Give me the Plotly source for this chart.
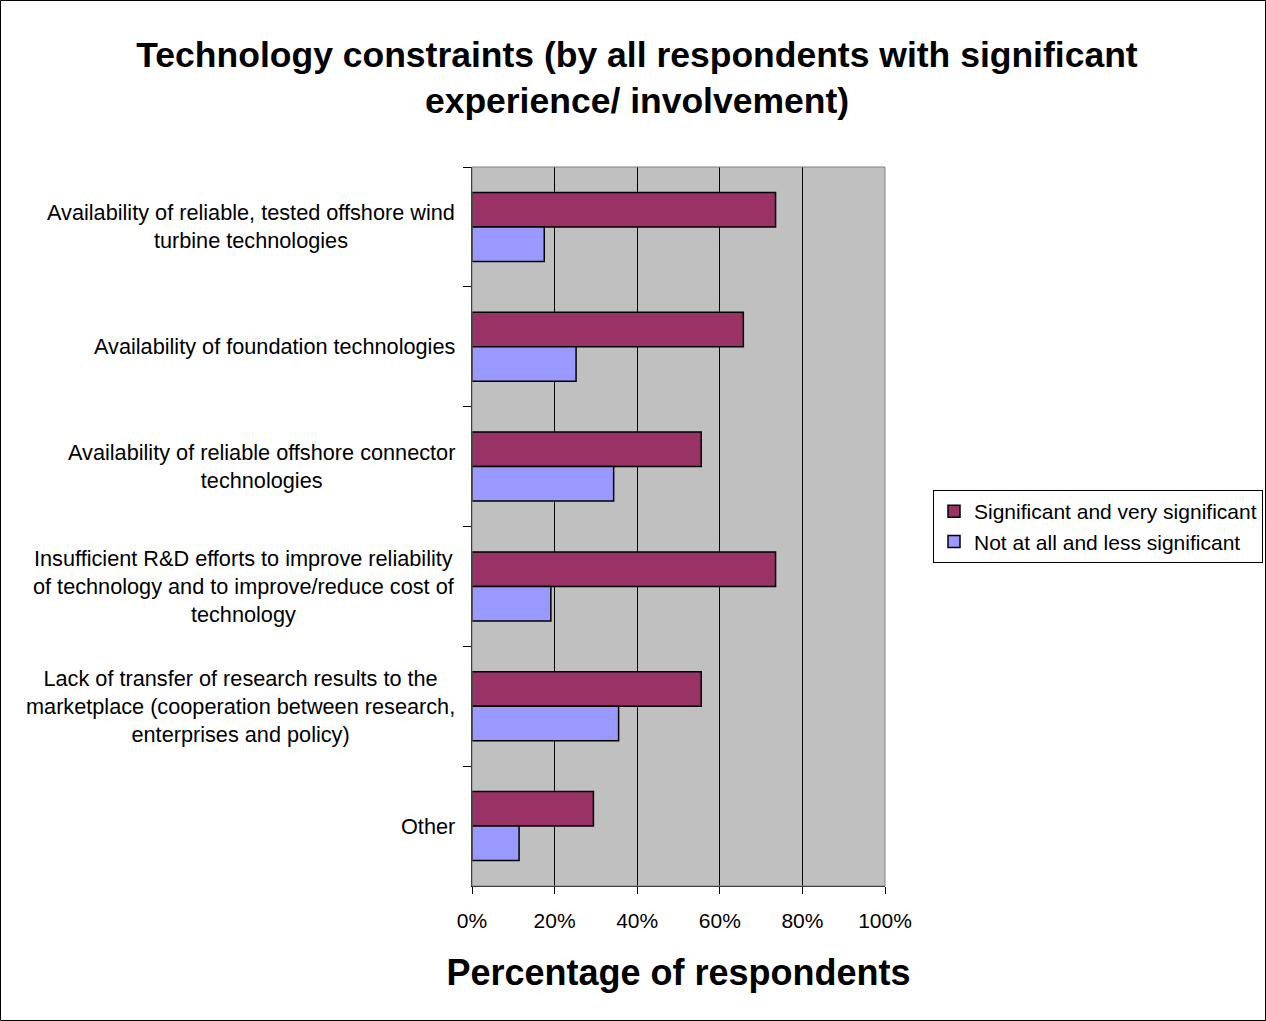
import plotly.graph_objects as go

# Survey data: share of respondents per technology constraint
categories = [
    "Availability of reliable, tested offshore wind<br>turbine technologies",
    "Availability of foundation technologies",
    "Availability of reliable offshore connector<br>technologies",
    "Insufficient R&D efforts to improve reliability<br>of technology and to improve/reduce cost of<br>technology",
    "Lack of transfer of research results to the<br>marketplace (cooperation between research,<br>enterprises and policy)",
    "Other",
]
significant = [0.735, 0.657, 0.555, 0.735, 0.555, 0.294]
not_significant = [0.175, 0.252, 0.343, 0.191, 0.355, 0.114]
series_names = ["Significant and very significant", "Not at all and less significant"]
x_ticks = [0, 0.2, 0.4, 0.6, 0.8, 1.0]

W, H = 1266, 1021
ML, MR, MT, MB = 472, 381, 167, 135
PW, PH = W - ML - MR, H - MT - MB

FONT = "Liberation Sans, Arial, sans-serif"

fig = go.Figure()
fig.add_trace(go.Bar(
    y=categories, x=significant, orientation="h", name=series_names[0],
    marker=dict(color="#993366", line=dict(color="black", width=1.5)),
))
fig.add_trace(go.Bar(
    y=categories, x=not_significant, orientation="h", name=series_names[1],
    marker=dict(color="#9999FF", line=dict(color="black", width=1.5)),
))

# Category labels: centred multi-line blocks right-aligned to the axis
for cat in categories:
    fig.add_annotation(
        x=0, xref="paper", y=cat, yref="y", text=cat, showarrow=False,
        xanchor="right", yanchor="middle", align="center", xshift=-15,
        font=dict(family=FONT, size=21.7, color="black"),
    )

# Frame around the plotting area and around the whole chart
fig.add_shape(type="rect", xref="paper", yref="paper", x0=0, x1=1, y0=0, y1=1,
              line=dict(color="#808080", width=1), layer="above")
fig.add_shape(type="rect", xref="paper", yref="paper",
              x0=(0.5 - ML) / PW, x1=(W - 0.5 - ML) / PW,
              y0=-(MB - 0.5) / PH, y1=(H - MB - 0.5) / PH,
              line=dict(color="black", width=1))

fig.update_layout(
    width=W, height=H,
    margin=dict(l=ML, r=MR, t=MT, b=MB),
    paper_bgcolor="white", plot_bgcolor="#C0C0C0",
    font=dict(family=FONT, size=21, color="black"),
    barmode="group", bargap=0.424, bargroupgap=0,
    showlegend=True,
    title=dict(
        text="<b>Technology constraints (by all respondents with significant<br>experience/ involvement)</b>",
        x=637 / W, xanchor="center", xref="container",
        y=1 - 67 / H, yanchor="top", yref="container",
        font=dict(family=FONT, size=35.5, color="black"),
    ),
    legend=dict(
        x=933 / W, xref="container", xanchor="left",
        y=1 - 490 / H, yref="container", yanchor="top",
        bgcolor="white", bordercolor="black", borderwidth=1,
        traceorder="normal", font=dict(family=FONT, size=21),
        itemwidth=30,
    ),
    xaxis=dict(
        range=[0, 1], tickvals=x_ticks, tickformat=".0%",
        showgrid=True, gridcolor="black", gridwidth=1,
        showline=True, linecolor="black", linewidth=1,
        ticks="outside", ticklen=7, tickcolor="black",
        tickfont=dict(family=FONT, size=21), ticklabelstandoff=9,
        zeroline=False,
        title=dict(text="<b>Percentage of respondents</b>", standoff=28,
                   font=dict(family=FONT, size=36)),
    ),
    yaxis=dict(
        categoryorder="array", categoryarray=categories, autorange="reversed",
        showticklabels=False, tickson="boundaries",
        ticks="outside", ticklen=8, tickcolor="black",
        showline=True, linecolor="black", linewidth=1,
        showgrid=False, zeroline=False,
    ),
)

fig.write_html("out.html")
